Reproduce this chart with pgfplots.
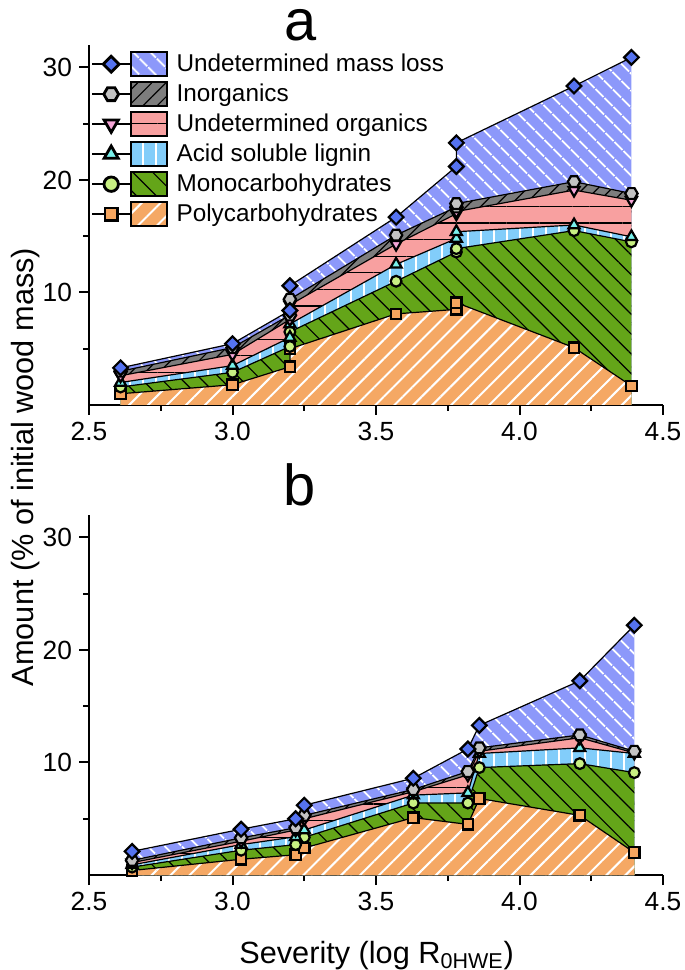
\documentclass[border=0pt]{standalone}
\usepackage{fontspec}
\setmainfont{Liberation Sans}
\usepackage{pgfplots}
\pgfplotsset{compat=1.18}
\usepackage{pgfplotstable}
\usetikzlibrary{patterns.meta}

\definecolor{umlc}{RGB}{140,152,250}
\definecolor{umlm}{RGB}{85,115,240}
\definecolor{inoc}{RGB}{125,125,125}
\definecolor{inom}{RGB}{195,195,195}
\definecolor{uoc}{RGB}{248,160,160}
\definecolor{uom}{RGB}{245,165,215}
\definecolor{aslc}{RGB}{130,205,250}
\definecolor{aslm}{RGB}{120,240,235}
\definecolor{monc}{RGB}{100,165,25}
\definecolor{monm}{RGB}{200,240,130}
\definecolor{polc}{RGB}{245,168,100}
\definecolor{polm}{RGB}{245,165,95}

\pgfdeclareplotmark{hexagon*}{%
  \pgfpathmoveto{\pgfqpointpolar{0}{\pgfplotmarksize}}%
  \pgfpathlineto{\pgfqpointpolar{60}{\pgfplotmarksize}}%
  \pgfpathlineto{\pgfqpointpolar{120}{\pgfplotmarksize}}%
  \pgfpathlineto{\pgfqpointpolar{180}{\pgfplotmarksize}}%
  \pgfpathlineto{\pgfqpointpolar{240}{\pgfplotmarksize}}%
  \pgfpathlineto{\pgfqpointpolar{300}{\pgfplotmarksize}}%
  \pgfpathclose
  \pgfusepathqfillstroke}

\pgfplotstableread{
x    poly mono asl   uo   inorg uml
2.61 1.0  1.6  2.0   2.6  3.0   3.3
3.00 1.8  2.9  3.5   4.5  5.1   5.45
3.20 3.4  5.2  6.0   7.6  8.0   8.4
3.20 5.0  6.5  7.2   8.9  9.4   10.6
3.57 8.1  11.0 12.5  14.3 15.1  16.7
3.78 8.5  13.6 14.8  17.0 17.6  21.2
3.78 9.1  13.9 15.4  17.2 17.9  23.3
4.19 5.1  15.5 16.0  19.1 19.85 28.35
4.39 1.7  14.5 14.95 18.2 18.8  30.9
}\tablea

\pgfplotstableread{
x    poly mono asl  uo   inorg uml
2.65 0.4  0.7  0.9  1.1  1.3   2.1
3.03 1.4  2.2  2.7  3.0  3.3   4.07
3.22 1.8  2.7  3.4  4.0  4.2   5.0
3.25 2.4  3.35 4.0  5.0  5.3   6.2
3.63 5.1  6.4  7.1  7.4  7.6   8.6
3.82 4.5  6.4  7.3  8.9  9.2   11.2
3.86 6.8  9.55 10.8 11.0 11.3  13.3
4.21 5.3  9.9  11.3 12.2 12.45 17.26
4.40 2.0  9.1  10.8 10.85 11.0 22.2
}\tableb

\tikzset{
  pUML/.style={pattern={Lines[angle=-45,distance=6bp,line width=1bp]}, pattern color=white},
  pINO/.style={pattern={Lines[angle=45,distance=5bp,line width=0.6bp]}, pattern color=black},
  pUO/.style={pattern={Lines[angle=0,distance=8.3bp,line width=0.6bp]}, pattern color=black},
  pASL/.style={pattern={Lines[angle=90,distance=6.5bp,line width=1bp]}, pattern color=white},
  pMON/.style={pattern={Lines[angle=-45,distance=7bp,line width=0.6bp]}, pattern color=black},
  pPOL/.style={pattern={Lines[angle=45,distance=6.7bp,line width=1bp]}, pattern color=white},
}

\newcommand{\dlayer}[4]{%
  \addplot[forget plot, draw=none, fill=#3, postaction={#4}] table[x=x,y=#2]{#1} \closedcycle;}
\newcommand{\dedge}[2]{%
  \addplot[forget plot, black, line width=0.6bp, no marks] table[x=x,y=#2]{#1};}
\newcommand{\dmarks}[5]{% table, column, mark, options, size
  \addplot[forget plot, only marks, mark=#3, mark size=#5, mark options={#4, draw=black, line width=1.1bp}] table[x=x,y=#2]{#1};}

\newcommand{\legimg}[5]{% mark, mark options, fill, pattern style, mark size
  \addlegendimage{mark=#1, mark size=#5, mark options={#2, draw=black, line width=1.4bp},
    legend image code/.code={%
      \draw[black, line width=0.8bp, mark repeat=2, mark phase=2] plot coordinates {(0bp,0bp) (9.5bp,0bp) (19bp,0bp)};
      \path[fill=#3, draw=black, line width=0.8bp, postaction={#4}] (19.5bp,-6bp) rectangle (37.5bp,6bp);
    }}}

\newcommand{\dpanel}[1]{%
  \dlayer{#1}{uml}{umlc}{pUML}
  \dlayer{#1}{inorg}{inoc}{pINO}
  \dlayer{#1}{uo}{uoc}{pUO}
  \dlayer{#1}{asl}{aslc}{pASL}
  \dlayer{#1}{mono}{monc}{pMON}
  \dlayer{#1}{poly}{polc}{pPOL}
  \dedge{#1}{uml}\dedge{#1}{inorg}\dedge{#1}{uo}\dedge{#1}{asl}\dedge{#1}{mono}\dedge{#1}{poly}
  \dmarks{#1}{poly}{square*}{fill=polm}{2.6bp}
  \dmarks{#1}{mono}{*}{fill=monm}{2.7bp}
  \dmarks{#1}{asl}{triangle*}{fill=aslm}{3.2bp}
  \dmarks{#1}{uo}{triangle*}{fill=uom, rotate=180}{3.2bp}
  \dmarks{#1}{inorg}{hexagon*}{fill=inom}{3.1bp}
  \dmarks{#1}{uml}{square*}{fill=umlm, rotate=45}{2.6bp}
}

\pgfplotsset{panel/.style={
  scale only axis, width=287bp, height=180bp,
  xmin=2.5, xmax=4.5, ymin=0, ymax=32,
  axis x line*=bottom, axis y line*=left,
  axis line style={line width=1bp, -},
  xtick={2.5,3,3.5,4,4.5}, minor xtick={2.75,3.25,3.75,4.25},
  ytick={10,20,30}, minor ytick={5,15,25},
  tick align=outside, major tick length=5bp, minor tick length=3bp,
  tick style={line width=1bp, black},
  tick label style={font=\fontsize{13.2}{15}\selectfont},
  xticklabel style={/pgf/number format/.cd, fixed, fixed zerofill, precision=1},
  /pgf/number format/assume math mode=true,
}}

\begin{document}
\begin{tikzpicture}
\useasboundingbox (0,0) rectangle (342.5bp,485bp);

\begin{axis}[panel, at={(44.5bp,282.5bp)}, anchor=south west,
  legend style={at={(axis description cs:0,1)}, anchor=north west, xshift=1bp, yshift=-3bp,
    inner sep=0pt, draw=none, fill=none, font=\fontsize{12.2}{14}\selectfont, row sep=2.2bp,
    nodes={inner sep=0.8bp},
    /tikz/every odd column/.style={column sep=3.5bp}},
  legend cell align=left]
  \legimg{square*}{fill=umlm, rotate=45}{umlc}{pUML}{2.8bp}
  \addlegendentry{Undetermined mass loss}
  \legimg{hexagon*}{fill=inom}{inoc}{pINO}{3.7bp}
  \addlegendentry{Inorganics}
  \legimg{triangle*}{fill=uom, rotate=180}{uoc}{pUO}{4.1bp}
  \addlegendentry{Undetermined organics}
  \legimg{triangle*}{fill=aslm}{aslc}{pASL}{4.1bp}
  \addlegendentry{Acid soluble lignin}
  \legimg{*}{fill=monm}{monc}{pMON}{3.6bp}
  \addlegendentry{Monocarbohydrates}
  \legimg{square*}{fill=polm}{polc}{pPOL}{3.1bp}
  \addlegendentry{Polycarbohydrates}
  \dpanel{\tablea}
\end{axis}

\begin{axis}[panel, at={(44.5bp,47.5bp)}, anchor=south west]
  \dpanel{\tableb}
\end{axis}

\node[anchor=base, inner sep=0pt, font=\fontsize{29}{31}\selectfont] at (150.5bp,464.5bp) {a};
\node[anchor=base, inner sep=0pt, font=\fontsize{29}{31}\selectfont] at (150bp,232bp) {b};
\node[rotate=90, anchor=base, inner sep=0pt, font=\fontsize{15.4}{17}\selectfont] at (16.5bp,251.5bp) {Amount (\% of initial wood mass)};
\node[anchor=base, inner sep=0pt, font=\fontsize{15.4}{17}\selectfont] at (188.3bp,3.5bp) {Severity (log R\textsubscript{0HWE})};
\end{tikzpicture}
\end{document}
